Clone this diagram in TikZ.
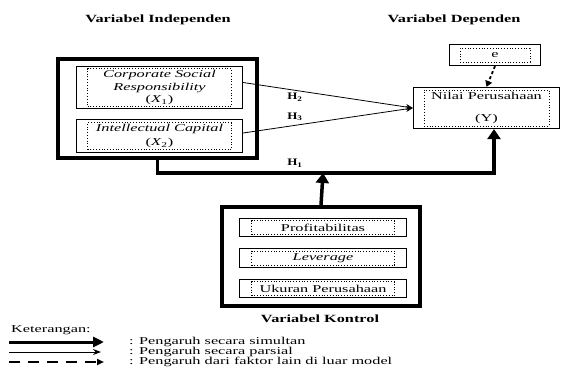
\documentclass[tikz,border=0pt]{standalone}
\usepackage{fontspec}
\setmainfont{Liberation Serif}
\usepackage{graphicx}
\usetikzlibrary{arrows.meta}

\newcommand{\wtxt}[1]{\scalebox{1.55}[1]{#1}}
\newcommand{\wlines}[1]{\scalebox{1.55}[1]{\begin{tabular}{@{}c@{}}#1\end{tabular}}}

\tikzset{
  varbox/.style={draw, line width=1.2pt, inner sep=0pt},
  bigbox/.style={draw, line width=4pt, inner sep=0pt},
  dotbox/.style={draw, dotted, line width=0.8pt, inner sep=0pt,
    font=\fontsize{10.5}{12.5}\selectfont},
  head/.style={font=\fontsize{11}{13}\selectfont\bfseries},
  small/.style={font=\fontsize{10.5}{12.5}\selectfont},
  hlab/.style={font=\fontsize{10}{12}\selectfont\bfseries},
  thin/.style={line width=0.8pt, -{Stealth[length=7pt,width=6pt]}},
  bus/.style={line width=3.5pt, -{Triangle[length=10pt,width=13pt]}},
  outside/.style={line width=1.8pt, dash pattern=on 3pt off 2.5pt,
    -{Triangle[length=6pt,width=7pt]}}
}

\begin{document}
\begin{tikzpicture}[x=1pt,y=-1pt]
\useasboundingbox (0,0) rectangle (562,369);

\node[head] (hind) at (158,20) {\scalebox{1.48}[1]{Variabel Independen}};
\node[head] (hdep) at (454,20) {\scalebox{1.48}[1]{Variabel Dependen}};
\node[head] (hkon) at (320,319) {\scalebox{1.48}[1]{Variabel Kontrol}};

\node[bigbox, minimum width=199pt, minimum height=99pt] (indep) at (157.5,108.5) {};
\node[varbox, minimum width=166pt, minimum height=42pt] (csr) at (159.5,87.5) {};
\node[dotbox, minimum width=144pt, minimum height=35pt] (csrin) at (csr)
  {\wlines{\itshape Corporate Social\\ \itshape Responsibility\\ (\textit{X}\textsubscript{1})}};
\node[varbox, minimum width=166pt, minimum height=33pt] (ic) at (159.5,136) {};
\node[dotbox, minimum width=144pt, minimum height=27pt] (icin) at (ic)
  {\wlines{\itshape Intellectual Capital\\[1.5pt] (\textit{X}\textsubscript{2})}};

\node[varbox, minimum width=91pt, minimum height=21pt] (e) at (495,55) {};
\node[dotbox, minimum width=70pt, minimum height=14pt] (ein) at (e) {\wtxt{e}};
\node[varbox, minimum width=146pt, minimum height=41pt] (yv) at (486.5,108) {};
\node[dotbox, minimum width=125pt, minimum height=36pt] (yin) at (yv)
  {\wlines{Nilai Perusahaan\\[9pt] (Y)}};

\node[bigbox, minimum width=198pt, minimum height=99pt] (kontrol) at (321,256.5) {};
\node[varbox, minimum width=167pt, minimum height=18pt] (prof) at (323,227.5) {};
\node[dotbox, minimum width=143pt, minimum height=14pt] (profin) at (prof) {\wtxt{Profitabilitas}};
\node[varbox, minimum width=167pt, minimum height=19pt] (lev) at (323,258) {};
\node[dotbox, minimum width=143pt, minimum height=14pt] (levin) at (lev) {\wtxt{\itshape Leverage}};
\node[varbox, minimum width=167pt, minimum height=18pt] (uk) at (323,288.5) {};
\node[dotbox, minimum width=143pt, minimum height=14pt] (ukin) at (uk) {\wtxt{Ukuran Perusahaan}};

\draw[thin] ([yshift=5pt]csr.east) -- (yv.west);
\draw[thin] ([yshift=3pt]ic.east) -- (yv.west);
\draw[outside] (e.south) -- (yv.north);

\coordinate (junc) at (323,173);
\draw[bus] (indep.south) |- (junc) -| ([xshift=7.5pt]yv.south);
\draw[bus] (kontrol.north) -- (junc);

\node[hlab] (h2) at (295,97) {\scalebox{1.3}[1]{H\textsubscript{2}}};
\node[hlab] (h3) at (295,117) {\scalebox{1.3}[1]{H\textsubscript{3}}};
\node[hlab] (h1) at (295,163) {\scalebox{1.3}[1]{H\textsubscript{1}}};

\node[small, anchor=west, inner sep=0pt] (ket) at (11,330) {\wtxt{Keterangan:}};
\coordinate (s1) at (9,342); \coordinate (t1) at (104,342);
\coordinate (s2) at (9,352); \coordinate (t2) at (101,352);
\coordinate (s3) at (9,362); \coordinate (t3) at (104,362);
\draw[line width=3pt, -{Triangle[length=11pt,width=10pt]}] (s1) -- (t1);
\draw[line width=1pt, -{Stealth[length=8pt,width=6pt]}] (s2) -- (t2);
\draw[line width=1.8pt, dash pattern=on 11pt off 8pt, -{Triangle[length=7pt,width=6pt]}] (s3) -- (t3);
\node[small, anchor=west, inner sep=0pt] (l1) at (129,342) {\wtxt{: Pengaruh secara simultan}};
\node[small, anchor=west, inner sep=0pt] (l2) at (129,352) {\wtxt{: Pengaruh secara parsial}};
\node[small, anchor=west, inner sep=0pt] (l3) at (129,362) {\wtxt{: Pengaruh dari faktor lain di luar model}};
\end{tikzpicture}
\end{document}
